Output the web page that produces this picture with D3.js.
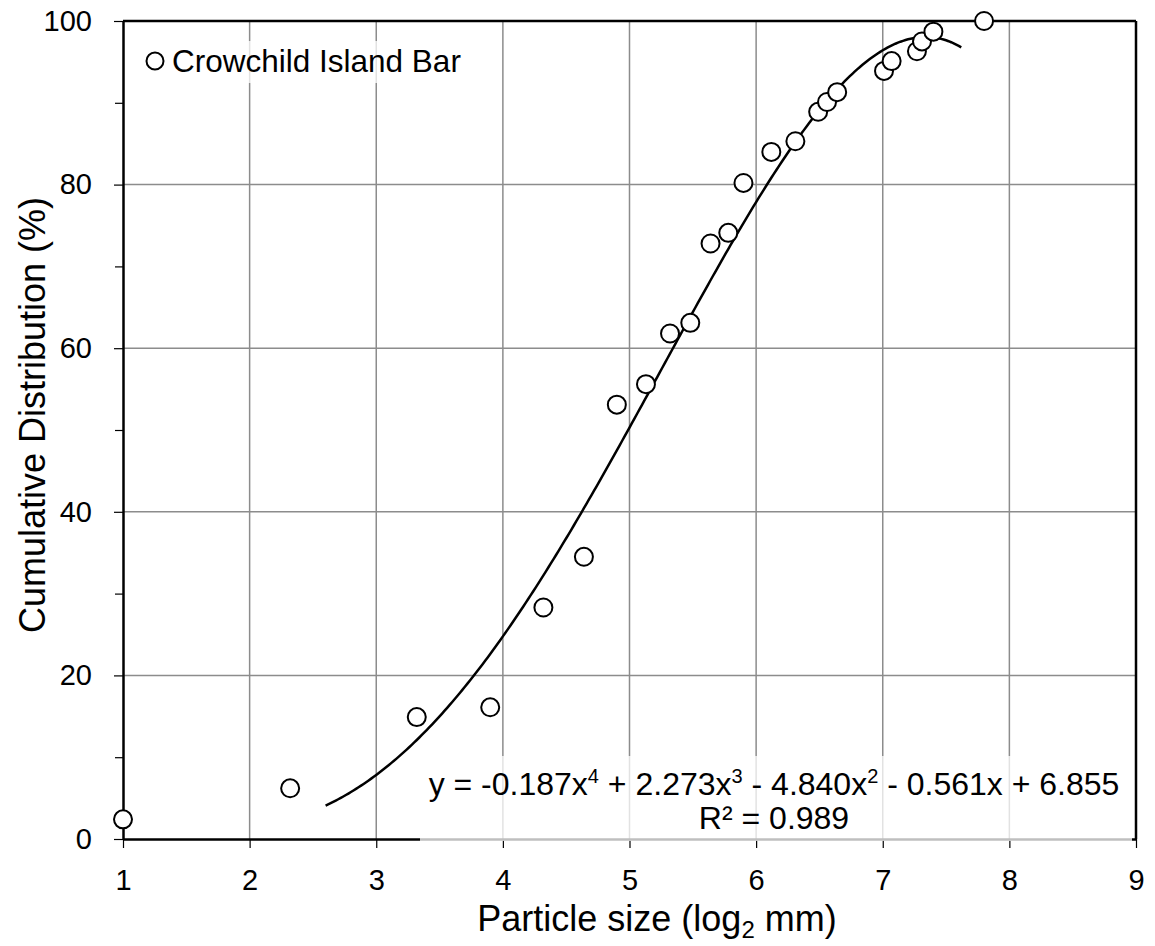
<!DOCTYPE html>
<html>
<head>
<meta charset="utf-8">
<script src="https://cdn.jsdelivr.net/npm/d3@7"></script>
<style>
body{margin:0;background:#fff;}
svg{display:block;font-family:"Liberation Sans",Arial,sans-serif;}
</style>
</head>
<body>
<svg width="1155" height="946"></svg>
<script>
// particle size (log2 mm) and cumulative distribution (%)
const sizes = [1.00,2.32,3.32,3.90,4.32,4.64,4.90,5.13,5.32,5.48,5.64,5.78,5.90,6.12,6.31,6.49,6.56,6.64,7.01,7.07,7.27,7.31,7.40,7.80];
const cumulative = [2.4,6.2,14.9,16.1,28.3,34.5,53.1,55.6,61.8,63.1,72.8,74.1,80.2,84.0,85.3,88.9,90.1,91.3,93.9,95.1,96.3,97.5,98.7,100.0];
const xTicks = [1,2,3,4,5,6,7,8,9];
const yTicks = [0,20,40,60,80,100];
const yMinor = [10,30,50,70,90];
// trendline y = -0.187x^4 + 2.273x^3 - 4.840x^2 - 0.561x + 6.855
const coefs = [-0.187,2.273,-4.840,-0.561,6.855];
const trendRange = [2.6,7.62];
const seriesName = 'Crowchild Island Bar';

const svg = d3.select('svg');
const x = d3.scaleLinear().domain([1,9]).range([123,1136]);
const y = d3.scaleLinear().domain([0,100]).range([839,21]);

// grid
svg.append('g').selectAll('line')
.data(xTicks.slice(1,-1))
.enter().append('line')
.attr('x1',d=>x(d)).attr('x2',d=>x(d))
.attr('y1',y(100)).attr('y2',y(0))
.attr('stroke','#8c8c8c').attr('stroke-width',1.5);

svg.append('g').selectAll('line')
.data(yTicks.slice(1,-1))
.enter().append('line')
.attr('x1',x(1)).attr('x2',x(9))
.attr('y1',d=>y(d)).attr('y2',d=>y(d))
.attr('stroke','#8c8c8c').attr('stroke-width',1.5);

// axes
const xAxis = svg.append('g')
.attr('transform',`translate(0,${y(0)})`)
.call(d3.axisBottom(x).tickValues(xTicks).tickSize(9).tickPadding(21).tickSizeOuter(0));
const yAxis = svg.append('g')
.attr('transform',`translate(${x(1)},0)`)
.call(d3.axisLeft(y).tickValues(yTicks).tickSize(9).tickPadding(22).tickSizeOuter(0));
svg.append('g')
.attr('transform',`translate(${x(1)},0)`)
.call(d3.axisLeft(y).tickValues(yMinor).tickSize(8).tickFormat('').tickSizeOuter(0))
.select('.domain').remove();

[xAxis,yAxis].forEach(a=>{
  a.selectAll('.domain').attr('stroke','#000').attr('stroke-width',2.5);
  a.selectAll('.tick text').attr('font-size',29).attr('fill','#000')
   .attr('font-family','"Liberation Sans",Arial,sans-serif');
});
svg.selectAll('.tick line').attr('stroke','#000').attr('stroke-width',1.2);

// top and right frame
svg.append('line').attr('x1',x(1)).attr('x2',x(9)).attr('y1',y(100)).attr('y2',y(100))
.attr('stroke','#000').attr('stroke-width',2.5);
svg.append('line').attr('x1',x(9)).attr('x2',x(9)).attr('y1',y(100)).attr('y2',y(0))
.attr('stroke','#000').attr('stroke-width',2.5);

// trendline
const poly = v => coefs.reduce((acc,c)=>acc*v+c,0);
const trendX = d3.range(trendRange[0],trendRange[1]+0.001,0.02);
svg.append('path')
.datum(trendX)
.attr('fill','none').attr('stroke','#000').attr('stroke-width',2.5)
.attr('d',d3.line().x(d=>x(d)).y(d=>y(poly(d))));

// equation label box
svg.append('rect').attr('x',420).attr('y',756).attr('width',712).attr('height',85)
.attr('fill','#fff').attr('opacity',0.75);
const eq = svg.append('text').attr('x',774).attr('y',795).attr('text-anchor','middle')
.attr('font-size',32).attr('fill','#000');
const parts = [['y = -0.187x',''],['4','sup'],[' + 2.273x',''],['3','sup'],[' - 4.840x',''],['2','sup'],[' - 0.561x + 6.855','']];
parts.forEach(p=>{
  const t = eq.append('tspan').text(p[0]);
  if(p[1]==='sup') t.attr('font-size',20).attr('baseline-shift','60%');
});
svg.append('text').attr('x',774).attr('y',829).attr('text-anchor','middle')
.attr('font-size',32).attr('fill','#000').text('R² = 0.989');

// points
svg.append('g').selectAll('circle')
.data(sizes)
.enter().append('circle')
.attr('cx',d=>x(d))
.attr('cy',(d,i)=>y(cumulative[i]))
.attr('r',9)
.attr('fill','#fff').attr('stroke','#000').attr('stroke-width',2);

// legend
svg.append('rect').attr('x',140).attr('y',41).attr('width',330).attr('height',42)
.attr('fill','#fff').attr('opacity',0.75);
svg.append('circle').attr('cx',155).attr('cy',61).attr('r',8.5)
.attr('fill','#fff').attr('stroke','#000').attr('stroke-width',2);
svg.append('text').attr('x',172).attr('y',72).attr('font-size',31.5).attr('fill','#000').text(seriesName);

// axis titles
const xt = svg.append('text').attr('x',657).attr('y',931).attr('text-anchor','middle')
.attr('font-size',36).attr('fill','#000');
xt.append('tspan').text('Particle size (log');
xt.append('tspan').text('2').attr('font-size',24).attr('baseline-shift','-30%');
xt.append('tspan').text(' mm)');

svg.append('text')
.attr('transform','translate(45,415) rotate(-90)')
.attr('text-anchor','middle').attr('font-size',36).attr('fill','#000')
.text('Cumulative Distribution (%)');
</script>
</body>
</html>
